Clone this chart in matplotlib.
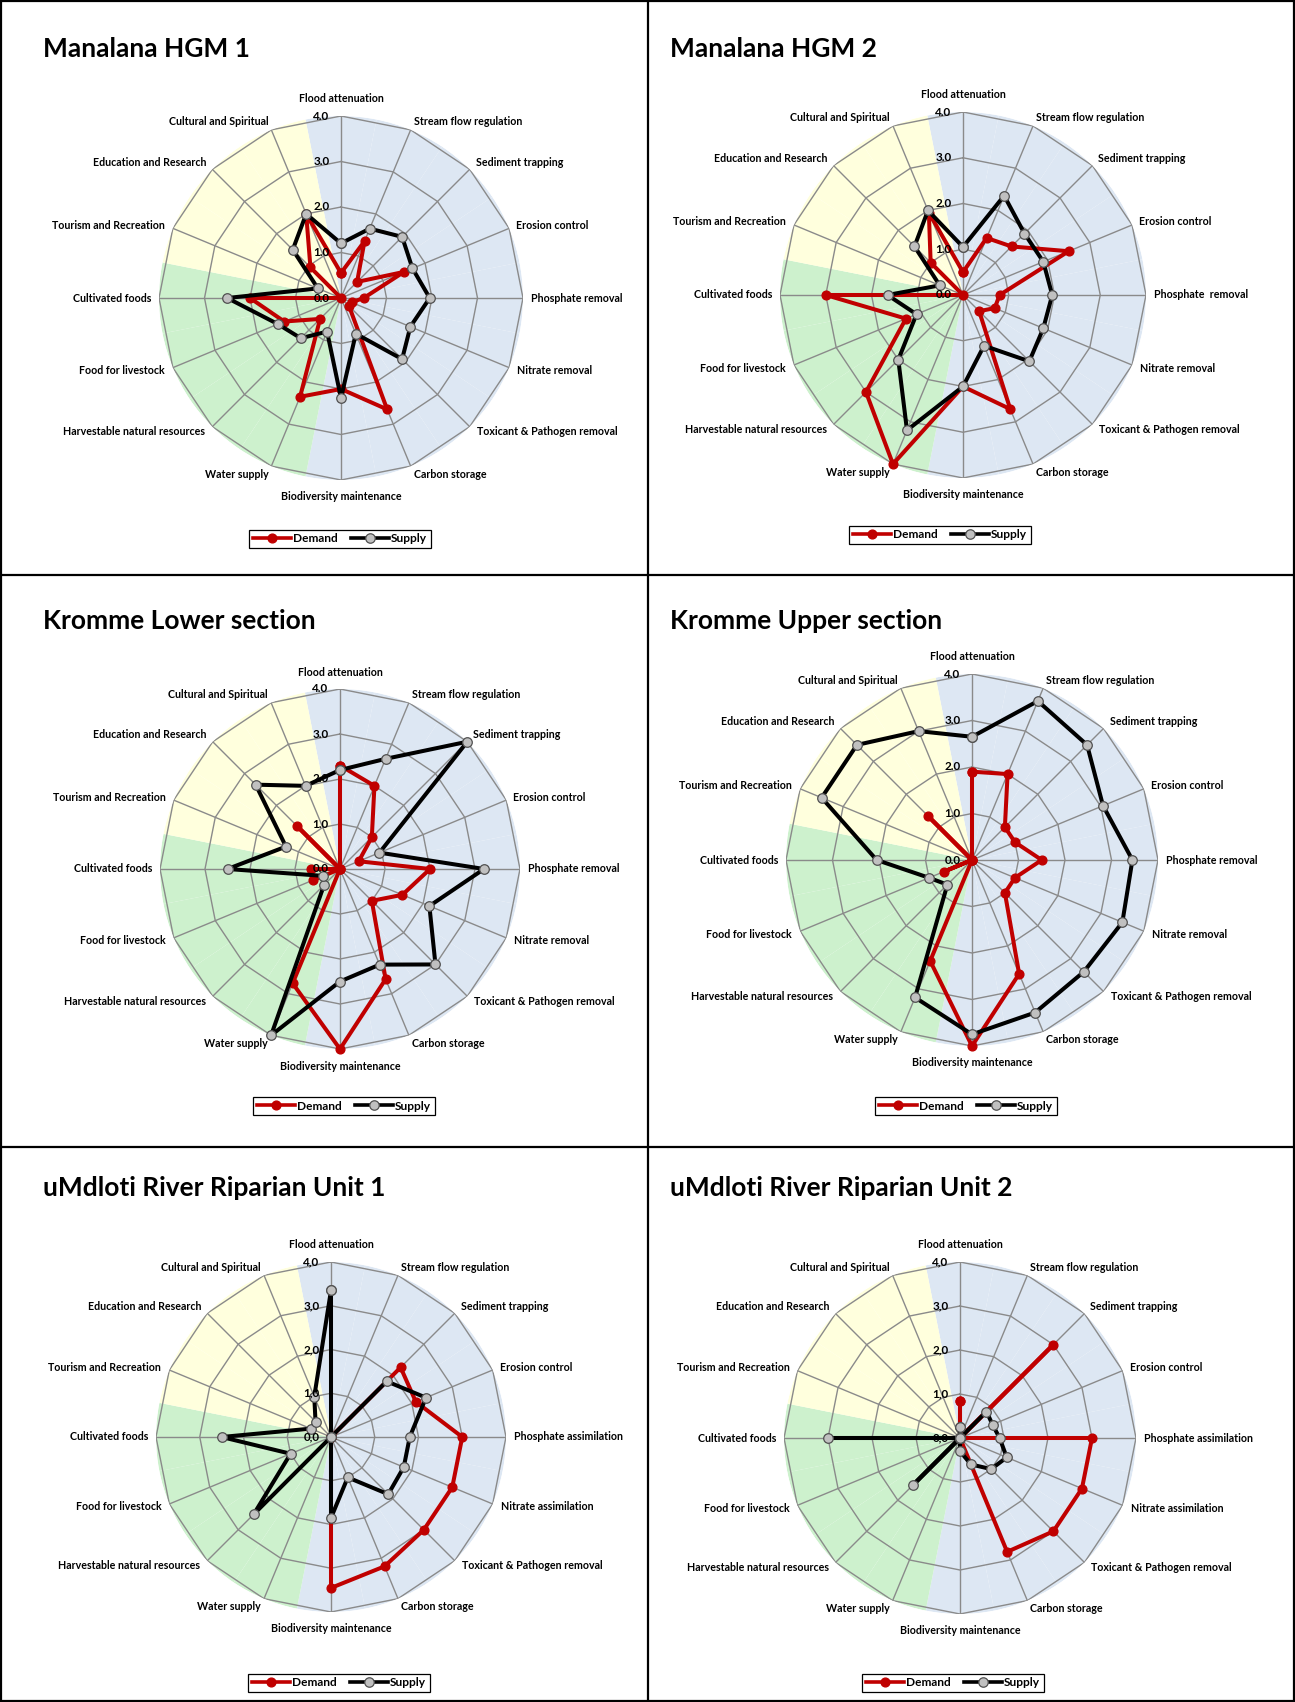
import numpy as np
import matplotlib
matplotlib.use("Agg")
import matplotlib.pyplot as plt
from matplotlib.lines import Line2D

plt.rcParams['font.family'] = ['Lato', 'DejaVu Sans']

# ---------------- data ----------------
labels_removal = ["Flood attenuation", "Stream flow regulation", "Sediment trapping", "Erosion control",
                  "Phosphate removal", "Nitrate removal", "Toxicant & Pathogen removal", "Carbon storage",
                  "Biodiversity maintenance", "Water supply", "Harvestable natural resources",
                  "Food for livestock", "Cultivated foods", "Tourism and Recreation",
                  "Education and Research", "Cultural and Spiritual"]
labels_removal2 = labels_removal[:4] + ["Phosphate  removal"] + labels_removal[5:]
labels_assim = labels_removal[:4] + ["Phosphate assimilation", "Nitrate assimilation"] + labels_removal[6:]

sector_colors = ["#dde7f3"] * 9 + ["#cdf1cd"] * 4 + ["#ffffdd"] * 3

titles = ["Manalana HGM 1", "Manalana HGM 2", "Kromme Lower section", "Kromme Upper section",
          "uMdloti River Riparian Unit 1", "uMdloti River Riparian Unit 2"]

demand_hgm1 = [0.55, 1.35, 0.5, 1.5, 0.5, 0.25, 0.25, 2.65, 2.0, 2.35, 0.65, 1.35, 2.0, 0.0, 0.95, 2.0]
supply_hgm1 = [1.2, 1.65, 1.9, 1.7, 1.95, 1.65, 1.9, 0.85, 2.2, 0.8, 1.25, 1.5, 2.5, 0.55, 1.5, 2.0]

demand_hgm2 = [0.5, 1.35, 1.5, 2.5, 0.8, 0.75, 0.5, 2.7, 2.0, 4.0, 3.0, 1.35, 3.0, 0.0, 1.0, 1.95]
supply_hgm2 = [1.05, 2.35, 1.9, 1.9, 1.95, 1.9, 2.05, 1.2, 2.0, 3.2, 2.0, 1.1, 1.65, 0.55, 1.5, 2.0]

demand_klower = [2.3, 2.0, 1.0, 0.45, 2.0, 1.5, 1.0, 2.65, 4.0, 2.75, 0.0, 0.65, 0.65, 0.0, 1.35, 0.0]
supply_klower = [2.2, 2.65, 4.0, 0.95, 3.2, 2.15, 3.0, 2.3, 2.5, 4.0, 0.5, 0.4, 2.5, 1.3, 2.65, 2.0]

demand_kupper = [1.9, 2.0, 1.0, 1.0, 1.5, 1.0, 1.0, 2.65, 4.0, 2.35, 0.0, 0.65, 0.0, 0.0, 1.35, 0.0]
supply_kupper = [2.65, 3.7, 3.5, 3.05, 3.45, 3.5, 3.4, 3.55, 3.75, 3.2, 0.75, 1.0, 2.05, 3.5, 3.5, 3.0]

demand_umd1 = [0.0, 0.0, 2.25, 2.1, 3.0, 3.0, 3.0, 3.2, 3.45, 0.0, 0.0, 0.0, 0.0, 0.0, 0.0, 0.0]
supply_umd1 = [3.35, 0.0, 1.8, 2.35, 1.8, 1.8, 1.85, 1.0, 1.85, 0.0, 2.5, 1.0, 2.5, 0.5, 0.5, 1.0]

demand_umd2 = [0.85, 0.0, 3.0, 0.0, 3.0, 3.0, 3.0, 2.8, 0.0, 0.0, 0.0, 0.0, 0.0, 0.0, 0.0, 0.0]
supply_umd2 = [0.25, 0.0, 0.85, 0.8, 0.9, 1.15, 1.0, 0.65, 0.3, 0.0, 1.5, 0.0, 3.0, 0.0, 0.0, 0.0]

tick_levels = [0, 1, 2, 3, 4]
tick_dot = ["0.0", "1.0", "2.0", "3.0", "4.0"]
tick_comma = ["0,0", "1,0", "2,0", "3,0", "4,0"]

# ---------------- layout ----------------
W, H = 1295, 1702
fig = plt.figure(figsize=(W / 100, H / 100), dpi=100)
PT = 0.72  # points per pixel

panels = [
    dict(title=titles[0], labels=labels_removal, d=demand_hgm1, s=supply_hgm1, ticks=tick_dot,
         c=(341, 298), R=182, t=(43, 49), leg=(340, 539)),
    dict(title=titles[1], labels=labels_removal2, d=demand_hgm2, s=supply_hgm2, ticks=tick_dot,
         c=(963, 295), R=183, t=(670, 49), leg=(940, 535)),
    dict(title=titles[2], labels=labels_removal, d=demand_klower, s=supply_klower, ticks=tick_dot,
         c=(340, 869), R=180, t=(43, 621), leg=(344, 1106)),
    dict(title=titles[3], labels=labels_removal, d=demand_kupper, s=supply_kupper, ticks=tick_dot,
         c=(972, 860), R=186, t=(670, 621), leg=(966, 1106)),
    dict(title=titles[4], labels=labels_assim, d=demand_umd1, s=supply_umd1, ticks=tick_comma,
         c=(331, 1437), R=175, t=(43, 1188), leg=(339, 1683)),
    dict(title=titles[5], labels=labels_assim, d=demand_umd2, s=supply_umd2, ticks=tick_comma,
         c=(960, 1438), R=176, t=(670, 1188), leg=(953, 1683)),
]

N = 16
theta = np.arange(N) * 2 * np.pi / N
theta_c = np.r_[theta, theta[0]]

# label offsets (pixels) and alignment around the polygon
lab_off = [(0, 17, 'center'), (3, 8, 'left'), (6, 7, 'left'), (7, 3, 'left'), (8, 0, 'left'),
           (8, -3, 'left'), (7, -5, 'left'), (3, -8, 'left'), (0, -17, 'center'),
           (-3, -8, 'right'), (-7, -5, 'right'), (-8, -3, 'right'), (-8, 0, 'right'),
           (-8, 3, 'right'), (-6, 7, 'right'), (-3, 8, 'right')]

RED = "#c00000"
GRID = "#8a8a8a"

for p in panels:
    cx, cy = p['c']
    R = p['R']
    ax = fig.add_axes([(cx - R) / W, 1 - (cy + R) / H, 2 * R / W, 2 * R / H], projection='polar')
    ax.set_theta_zero_location('N')
    ax.set_theta_direction(-1)
    ax.set_ylim(0, 4)
    ax.set_xticks([])
    ax.set_yticks([])
    ax.grid(False)
    ax.spines['polar'].set_visible(False)
    ax.patch.set_alpha(0)

    # coloured sectors
    ax.bar(theta, [4.0] * N, width=2 * np.pi / N, bottom=0, color=sector_colors,
           edgecolor='none', linewidth=0, zorder=0.5)
    # polygon grid
    for lv in tick_levels[1:]:
        ax.plot(theta_c, [lv] * (N + 1), color=GRID, lw=1.0, zorder=1)
    for th in theta:
        ax.plot([th, th], [0, 4], color=GRID, lw=1.0, zorder=1)

    # series
    d = np.r_[p['d'], p['d'][0]]
    s = np.r_[p['s'], p['s'][0]]
    ax.plot(theta_c, d, color=RED, lw=2.9, marker='o', ms=6.3, mfc=RED, mec=RED,
            zorder=3, clip_on=False)
    ax.plot(theta_c, s, color='black', lw=2.9, marker='o', ms=6.9, mfc='#c0c0c0', mec='#505050',
            mew=0.9, zorder=4, clip_on=False)

    # tick labels
    for lv, tl in zip(tick_levels, p['ticks']):
        ax.annotate(tl, xy=(0, lv), xytext=(-11.5 * PT, 0), textcoords='offset points',
                    ha='right', va='center', fontsize=8.4, fontweight='bold', zorder=5,
                    annotation_clip=False)

    # category labels
    for i, lab in enumerate(p['labels']):
        dx, dy, ha = lab_off[i]
        ax.annotate(lab, xy=(theta[i], 4.0), xytext=(dx * PT, dy * PT), textcoords='offset points',
                    ha=ha, va='center', fontsize=7.7, fontweight='bold', annotation_clip=False)

    # title
    fig.text(p['t'][0] / W, 1 - p['t'][1] / H, p['title'], ha='left', va='center',
             fontsize=19, fontweight='bold')

    # legend
    handles = [Line2D([], [], color=RED, lw=2.6, marker='o', ms=6.3, mfc=RED, mec=RED),
               Line2D([], [], color='black', lw=2.6, marker='o', ms=6.8, mfc='#c0c0c0',
                      mec='#505050', mew=0.9)]
    lg = fig.legend(handles, ["Demand", "Supply"], loc='center',
                    bbox_to_anchor=(p['leg'][0] / W, 1 - p['leg'][1] / H), ncol=2,
                    frameon=True, fancybox=False, edgecolor='black', framealpha=1,
                    prop=dict(size=8.6, weight='bold'), handlelength=3.2, handletextpad=0.15,
                    columnspacing=1.1, borderpad=0.3, numpoints=1)
    lg.get_frame().set_linewidth(0.9)

# panel frame lines
lw_f = 1.6
fig.add_artist(Line2D([0.5, 0.5], [0, 1], transform=fig.transFigure, color='black', lw=lw_f))
for yy in (575, 1147):
    fig.add_artist(Line2D([0, 1], [1 - yy / H, 1 - yy / H], transform=fig.transFigure,
                          color='black', lw=lw_f))
fig.add_artist(plt.Rectangle((0.0008, 0.0006), 0.9984, 0.9988, transform=fig.transFigure,
                             fill=False, edgecolor='black', lw=lw_f))

fig.savefig("out.png", dpi=100, facecolor='white')
